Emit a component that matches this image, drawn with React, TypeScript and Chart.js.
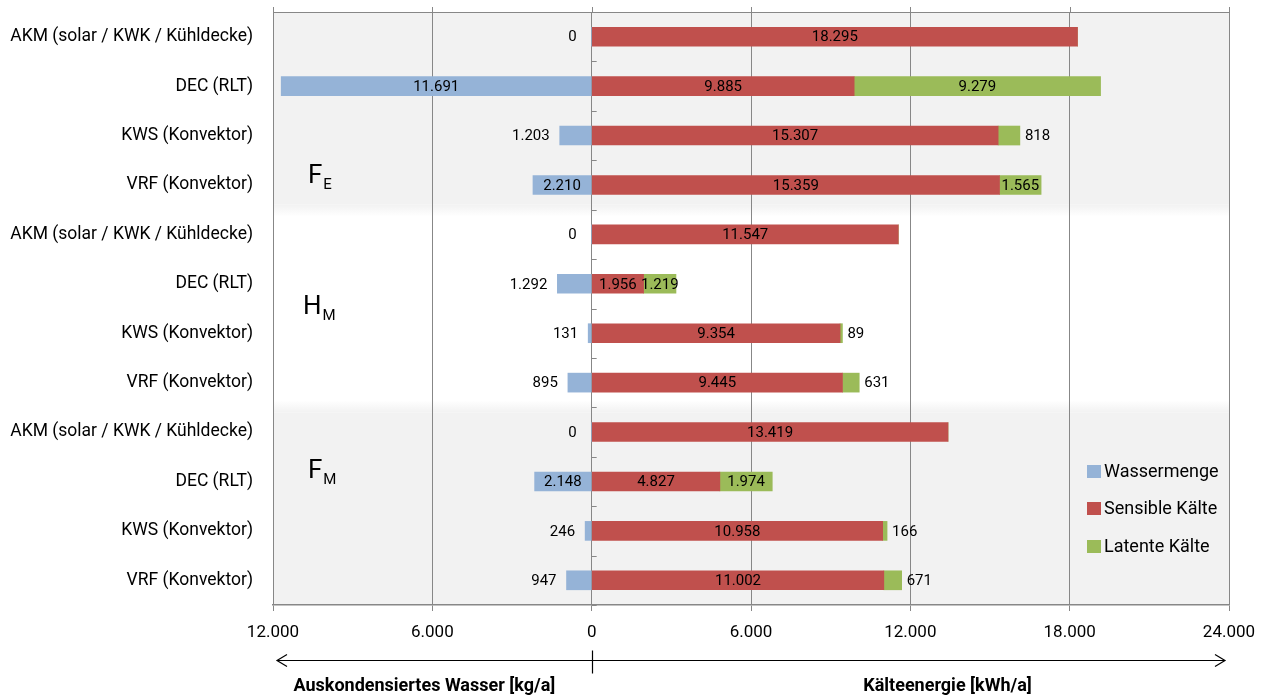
import React, { useEffect, useRef } from "react";
import { Chart, registerables } from "chart.js";

Chart.register(...registerables);

const categories = [
  "AKM (solar / KWK / Kühldecke)",
  "DEC (RLT)",
  "KWS (Konvektor)",
  "VRF (Konvektor)",
  "AKM (solar / KWK / Kühldecke)",
  "DEC (RLT)",
  "KWS (Konvektor)",
  "VRF (Konvektor)",
  "AKM (solar / KWK / Kühldecke)",
  "DEC (RLT)",
  "KWS (Konvektor)",
  "VRF (Konvektor)",
];
const wassermenge = [0, 11691, 1203, 2210, 0, 1292, 131, 895, 0, 2148, 246, 947];
const sensibleKaelte = [18295, 9885, 15307, 15359, 11547, 1956, 9354, 9445, 13419, 4827, 10958, 11002];
const latenteKaelte = [0, 9279, 818, 1565, 0, 1219, 89, 631, 0, 1974, 166, 671];
const xTicks = [-12000, -6000, 0, 6000, 12000, 18000, 24000];
const seriesNames = ["Wassermenge", "Sensible Kälte", "Latente Kälte"];
const groupNames = ["F", "H", "F"];
const groupSubs = ["E", "M", "M"];
const axisTitles = ["Auskondensiertes Wasser [kg/a]", "Kälteenergie [kWh/a]"];

const COLORS = ["#95b3d7", "#c0504d", "#9bbb59"];
const FONT = 'Roboto, "Open Sans", sans-serif';
const GRID = "#878787";
const BAND = "#f2f2f2";

const fmt = (n: number) => String(Math.abs(Math.round(n))).replace(/\B(?=(\d{3})+(?!\d))/g, ".");

const customPlugin = {
  id: "custom",
  beforeDraw(chart: any) {
    const { ctx, chartArea } = chart;
    const y = chart.scales.y;
    const { left, right, top, bottom } = chartArea;
    const b1 = y.getPixelForValue(3.5);
    const b2 = y.getPixelForValue(7.5);
    ctx.save();
    ctx.fillStyle = "#ffffff";
    ctx.fillRect(left, top, right - left, bottom - top);
    ctx.fillStyle = BAND;
    ctx.fillRect(left, top, right - left, b1 - 5 - top);
    let g = ctx.createLinearGradient(0, b1 - 5, 0, b1 + 7);
    g.addColorStop(0, BAND);
    g.addColorStop(1, "#ffffff");
    ctx.fillStyle = g;
    ctx.fillRect(left, b1 - 5, right - left, 12);
    g = ctx.createLinearGradient(0, b2 - 7, 0, b2 + 5);
    g.addColorStop(0, "#ffffff");
    g.addColorStop(1, BAND);
    ctx.fillStyle = g;
    ctx.fillRect(left, b2 - 7, right - left, 12);
    ctx.fillStyle = BAND;
    ctx.fillRect(left, b2 + 5, right - left, bottom - b2 - 5);
    ctx.restore();
  },
  afterDatasetsDraw(chart: any) {
    const { ctx, chartArea } = chart;
    const x = chart.scales.x;
    const y = chart.scales.y;
    const x0 = x.getPixelForValue(0);
    ctx.save();
    // small category ticks at zero line
    ctx.strokeStyle = GRID;
    ctx.lineWidth = 1;
    for (let i = 0; i < categories.length; i++) {
      const py = Math.round(y.getPixelForValue(i + 0.5)) + 0.5;
      ctx.beginPath();
      ctx.moveTo(x0, py);
      ctx.lineTo(x0 + 5, py);
      ctx.stroke();
    }
    // top border + top tick marks
    ctx.beginPath();
    ctx.moveTo(chartArea.left, Math.round(chartArea.top) + 0.5);
    ctx.lineTo(chartArea.right, Math.round(chartArea.top) + 0.5);
    ctx.stroke();
    xTicks.forEach((v) => {
      const px = Math.round(x.getPixelForValue(v)) + 0.5;
      ctx.beginPath();
      ctx.moveTo(px, chartArea.top - 5);
      ctx.lineTo(px, chartArea.top);
      ctx.stroke();
    });

    // data labels
    ctx.font = `15px ${FONT}`;
    ctx.fillStyle = "#000";
    ctx.textBaseline = "middle";
    const series = [wassermenge, sensibleKaelte, latenteKaelte];
    series.forEach((vals, di) => {
      const meta = chart.getDatasetMeta(di);
      meta.data.forEach((el: any, i: number) => {
        const v = vals[i];
        const txt = fmt(v);
        const w = Math.abs(el.x - el.base);
        const cy = el.y + 1;
        if (di === 0) {
          if (v === 0) {
            ctx.textAlign = "right";
            ctx.fillText(txt, x0 - 15, cy);
          } else if (w >= 45) {
            ctx.textAlign = "center";
            ctx.fillText(txt, (el.x + el.base) / 2, cy);
          } else {
            ctx.textAlign = "right";
            ctx.fillText(txt, Math.min(el.x, el.base) - 10, cy);
          }
        } else if (di === 1) {
          ctx.textAlign = "center";
          ctx.fillText(txt, (el.x + el.base) / 2, cy);
        } else {
          if (v === 0) return;
          if (w >= 30) {
            ctx.textAlign = "center";
            ctx.fillText(txt, (el.x + el.base) / 2, cy);
          } else {
            ctx.textAlign = "left";
            ctx.fillText(txt, Math.max(el.x, el.base) + 5, cy);
          }
        }
      });
    });
    ctx.restore();
  },
  afterDraw(chart: any) {
    const { ctx, chartArea } = chart;
    const x = chart.scales.x;
    const y = chart.scales.y;
    const x0 = Math.round(x.getPixelForValue(0)) + 0.5;
    ctx.save();
    // group labels
    const groupAt = [2.82, 5.47, 8.79];
    groupNames.forEach((nm, gi) => {
      const py = y.getPixelForValue(groupAt[gi]);
      const px = chartArea.left + (nm === "H" ? 30 : 35);
      ctx.fillStyle = "#000";
      ctx.textBaseline = "middle";
      ctx.textAlign = "left";
      ctx.font = `26px ${FONT}`;
      ctx.fillText(nm, px, py);
      const w = ctx.measureText(nm).width;
      ctx.font = `15px ${FONT}`;
      ctx.fillText(groupSubs[gi], px + w + 1, py + 9);
    });

    // legend
    const lx = chartArea.right - 142;
    const lys = [chartArea.bottom - 133, chartArea.bottom - 96, chartArea.bottom - 58];
    ctx.font = `18px ${FONT}`;
    seriesNames.forEach((nm, i) => {
      ctx.fillStyle = COLORS[i];
      ctx.fillRect(lx, lys[i] - 7, 14, 13);
      ctx.fillStyle = "#000";
      ctx.textAlign = "left";
      ctx.textBaseline = "middle";
      ctx.fillText(nm, lx + 17, lys[i]);
    });

    // bottom arrow
    const ay = Math.round(chart.height - 38) + 0.5;
    const l = chartArea.left + 4;
    const r = chartArea.right - 4;
    ctx.strokeStyle = "#000";
    ctx.lineWidth = 1.2;
    ctx.beginPath();
    ctx.moveTo(l, ay);
    ctx.lineTo(r, ay);
    ctx.moveTo(l + 10, ay - 6);
    ctx.lineTo(l, ay);
    ctx.lineTo(l + 10, ay + 6);
    ctx.moveTo(r - 10, ay - 6);
    ctx.lineTo(r, ay);
    ctx.lineTo(r - 10, ay + 6);
    ctx.moveTo(x0, ay - 10);
    ctx.lineTo(x0, ay + 13);
    ctx.stroke();

    // axis titles
    ctx.fillStyle = "#000";
    ctx.font = `bold 18px ${FONT}`;
    ctx.textAlign = "center";
    ctx.textBaseline = "middle";
    ctx.fillText(axisTitles[0], x.getPixelForValue(-6300), chart.height - 12);
    ctx.fillText(axisTitles[1], x.getPixelForValue(13400), chart.height - 12);
    ctx.restore();
  },
};

export default function App() {
  const ref = useRef<HTMLCanvasElement | null>(null);
  useEffect(() => {
    document.body.style.margin = "0";
    const canvas = ref.current;
    if (!canvas) return;
    const chart = new Chart(canvas, {
      type: "bar",
      data: {
        labels: categories,
        datasets: [
          {
            label: seriesNames[0],
            data: wassermenge.map((v) => -v),
            backgroundColor: COLORS[0],
            stack: "s",
            barThickness: 19,
          },
          {
            label: seriesNames[1],
            data: sensibleKaelte,
            backgroundColor: COLORS[1],
            stack: "s",
            barThickness: 19,
          },
          {
            label: seriesNames[2],
            data: latenteKaelte,
            backgroundColor: COLORS[2],
            stack: "s",
            barThickness: 19,
          },
        ],
      },
      options: {
        indexAxis: "y",
        animation: false,
        responsive: true,
        maintainAspectRatio: false,
        layout: { padding: { left: 0, right: 45, top: 12, bottom: 0 } },
        plugins: {
          legend: { display: false },
          tooltip: { enabled: false },
        },
        scales: {
          x: {
            type: "linear",
            stacked: true,
            min: -12000,
            max: 24000,
            afterBuildTicks: (scale: any) => {
              scale.ticks = xTicks.map((v) => ({ value: v }));
            },
            afterFit: (scale: any) => {
              scale.height = 93;
              scale.paddingLeft = 0;
              scale.paddingRight = 0;
            },
            grid: { color: GRID, lineWidth: 1, drawTicks: true, tickLength: 6, tickColor: GRID },
            border: { display: true, color: GRID, width: 1.5 },
            ticks: {
              color: "#000",
              font: { family: FONT, size: 17 },
              padding: 12,
              maxRotation: 0,
              autoSkip: false,
              callback: (v: any) => fmt(Number(v)),
            },
          },
          y: {
            type: "category",
            stacked: true,
            afterFit: (scale: any) => {
              scale.width = 273;
              scale.paddingTop = 0;
              scale.paddingBottom = 0;
            },
            grid: { display: false, drawTicks: false },
            border: { display: false },
            ticks: {
              color: "#000",
              font: { family: FONT, size: 17.5 },
              padding: 20,
              autoSkip: false,
            },
          },
        },
      },
      plugins: [customPlugin],
    });
    return () => chart.destroy();
  }, []);
  return (
    <div style={{ width: 1274, height: 698, position: "relative" }}>
      <canvas ref={ref} />
    </div>
  );
}
